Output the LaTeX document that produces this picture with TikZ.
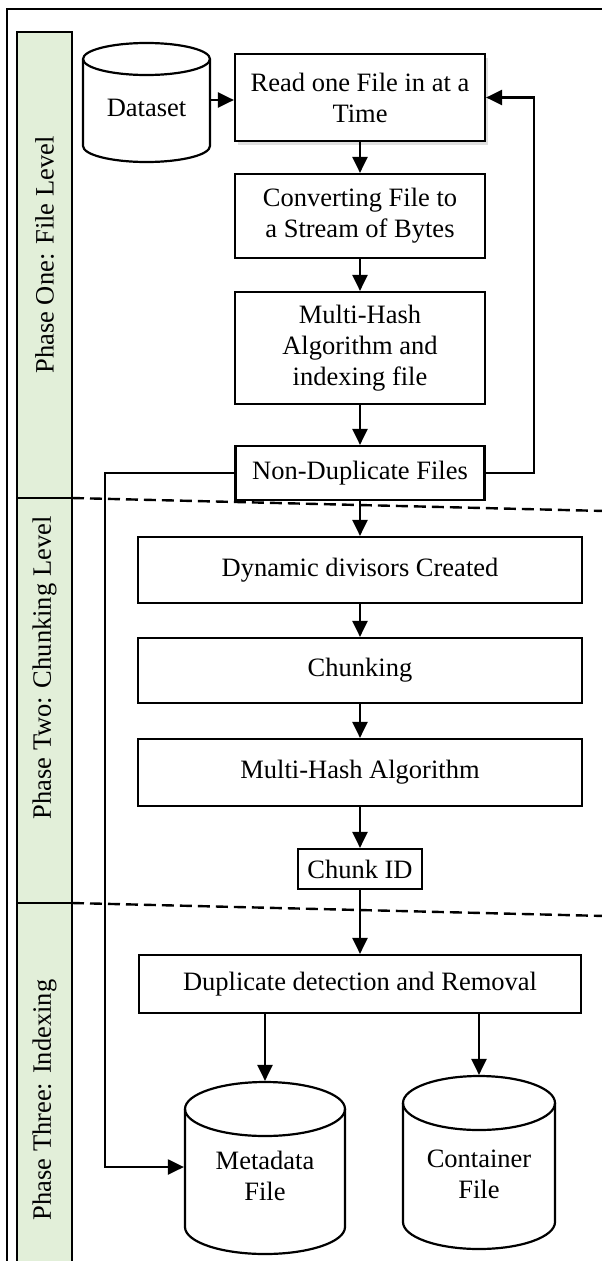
\documentclass[tikz,border=0pt]{standalone}
\usepackage{fontspec}
\setmainfont{Liberation Serif}
\usetikzlibrary{arrows.meta,shadows}
\definecolor{phasegreen}{HTML}{E2EFD9}
\begin{document}
\begin{tikzpicture}[x=1pt,y=1pt,
  line width=2.2pt,
  txt/.style={font=\fontsize{26.5}{31}\selectfont},
  box/.style={txt, draw, rectangle, inner sep=0pt, align=center, line width=2.2pt, fill=white},
  cylnode/.style={txt, rectangle, inner sep=0pt, align=center},
  cylshape/.style={draw, fill=white, line width=2.2pt},
  arr/.style={-{Triangle[length=16pt,width=15pt]}, line width=2.2pt},
  divider/.style={line width=2.4pt, dash pattern=on 12pt off 6pt},
  phaselabel/.style={font=\fontsize{26.5}{30}\selectfont, rotate=90, inner sep=0pt},
  shadowed/.style={drop shadow={shadow xshift=3pt, shadow yshift=-4pt, opacity=0.25, fill=gray}}
]
\useasboundingbox (0,0) rectangle (602,-1261);

% outer frame
\draw[line width=1.8pt] (7,-1270) -- (7,-9) -- (610,-9);

% phase bar
\draw[fill=phasegreen, line width=1.6pt] (17,-1270) rectangle (72,-32);
\draw[line width=1.6pt] (17,-498) -- (72,-498);
\draw[line width=1.6pt] (17,-903) -- (72,-903);
\node[phaselabel] (p1) at (44.5,-255) {Phase One: File Level};
\node[phaselabel] (p2) at (44.5,-668) {Phase Two: Chunking Level};
\node[phaselabel] (p3) at (44.5,-1100) {Phase Three: Indexing};

% dashed dividers
\coordinate (d1a) at (72,-498);
\coordinate (d1b) at (605,-511);
\coordinate (d2a) at (72,-903);
\coordinate (d2b) at (605,-916);
\draw[divider] (d1a) -- (d1b);
\draw[divider] (d2a) -- (d2b);

% cylinders
\draw[cylshape] (83,-59) -- (83,-146) arc[start angle=180,end angle=360,x radius=63.5,y radius=16] -- (210,-59) arc[start angle=0,end angle=180,x radius=63.5,y radius=16] -- cycle;
\draw[line width=2.2pt] (83,-59) arc[start angle=180,end angle=360,x radius=63.5,y radius=16];
\node[cylnode, minimum width=127, minimum height=114] (ds) at (146.5,-100) {\rule{0pt}{34pt}Dataset};

\draw[cylshape] (185,-1109) -- (185,-1227) arc[start angle=180,end angle=360,x radius=80,y radius=27] -- (345,-1109) arc[start angle=0,end angle=180,x radius=80,y radius=27] -- cycle;
\draw[line width=2.2pt] (185,-1109) arc[start angle=180,end angle=360,x radius=80,y radius=27];
\node[cylnode, minimum width=160, minimum height=170] (meta) at (265,-1167) {\rule{0pt}{36pt}Metadata\\File};

\draw[cylshape] (403,-1103) -- (403,-1222) arc[start angle=180,end angle=360,x radius=76,y radius=27] -- (555,-1103) arc[start angle=0,end angle=180,x radius=76,y radius=27] -- cycle;
\draw[line width=2.2pt] (403,-1103) arc[start angle=180,end angle=360,x radius=76,y radius=27];
\node[cylnode, minimum width=152, minimum height=173] (cont) at (479,-1162.5) {\rule{0pt}{42pt}Container\\File};

% boxes
\node[box, shadowed, minimum width=250, minimum height=87] (read) at (360,-97.5) {Read one File in at a\\Time};
\node[box, minimum width=250, minimum height=84] (conv) at (360,-216) {Converting File to\\a Stream of Bytes};
\node[box, minimum width=250, minimum height=112] (mh1) at (360,-348) {Multi-Hash\\Algorithm and\\indexing file};
\node[box, minimum width=249, minimum height=54] (nondup) at (360,-473) {Non-Duplicate Files};
\node[box, minimum width=444, minimum height=66] (dyn) at (360,-570) {Dynamic divisors Created};
\node[box, minimum width=444, minimum height=65] (chunk) at (360,-670.5) {Chunking};
\node[box, minimum width=444, minimum height=67] (mh2) at (360,-772.5) {Multi-Hash Algorithm};
\node[box, minimum width=124, minimum height=40] (cid) at (360,-869) {Chunk ID};
\node[box, minimum width=442, minimum height=58] (dup) at (360,-984) {Duplicate detection and Removal};

% connectors
\coordinate (fb) at (534,-300);
\coordinate (lb) at (105,-800);
\draw[arr] (ds.east) -- (ds.east -| read.west);
\draw[arr] (read.south) -- (conv.north);
\draw[arr] (conv.south) -- (mh1.north);
\draw[arr] (mh1.south) -- (nondup.north);
\draw[arr] (nondup.east) -- (nondup.east -| fb) -- (fb |- read.east) -- (read.east);
\draw[arr] (nondup.west) -- (nondup.west -| lb) -- (lb |- meta.west) -- (meta.west);
\draw[arr] (nondup.south) -- (dyn.north);
\draw[arr] (dyn.south) -- (chunk.north);
\draw[arr] (chunk.south) -- (mh2.north);
\draw[arr] (mh2.south) -- (cid.north);
\draw[arr] (cid.south) -- (dup.north);
\draw[arr] (dup.south -| meta.north) -- (meta.north);
\draw[arr] (dup.south -| cont.north) -- (cont.north);
\end{tikzpicture}
\end{document}
